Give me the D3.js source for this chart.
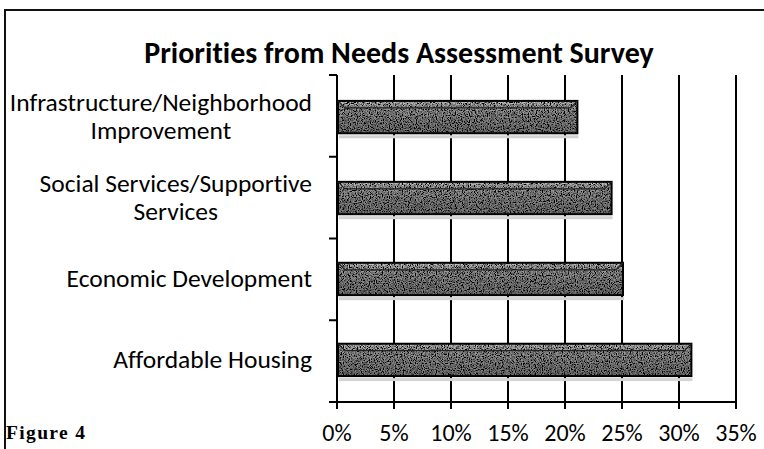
<!DOCTYPE html>
<html>
<head>
<meta charset="utf-8">
<script src="https://cdn.jsdelivr.net/npm/d3@7/dist/d3.min.js"></script>
<style>
  html, body { margin: 0; padding: 0; background: #fff; }
  svg { display: block; }
  text { font-variant-ligatures: none; }
</style>
</head>
<body>
<svg id="chart" width="764" height="449"></svg>
<script>
const categories = [
  ['Infrastructure/Neighborhood', 'Improvement'],
  ['Social Services/Supportive', 'Services'],
  ['Economic Development'],
  ['Affordable Housing'],
];
const values = [0.21, 0.24, 0.25, 0.31];
const ticks = [0, 0.05, 0.10, 0.15, 0.20, 0.25, 0.30, 0.35];
const title = 'Priorities from Needs Assessment Survey';
const figureLabel = 'Figure 4';

const font = 'Carlito, Calibri, Lato, sans-serif';
const margin = { top: 75, right: 28, bottom: 47, left: 337 };
const W = 764;
const H = 449;

const svg = d3.select('#chart');
const defs = svg.append('defs');

// grainy texture for the bars, like the scanned print
const filter = defs.append('filter')
  .attr('id', 'grain')
  .attr('x', 0).attr('y', 0).attr('width', 1).attr('height', 1);
filter.append('feTurbulence')
  .attr('type', 'fractalNoise')
  .attr('baseFrequency', 0.85)
  .attr('numOctaves', 2)
  .attr('seed', 4)
  .attr('result', 'noise');
filter.append('feColorMatrix')
  .attr('in', 'noise')
  .attr('type', 'matrix')
  .attr('values', '0 0 0 0 0  0 0 0 0 0  0 0 0 0 0  3.2 0 0 0 -1.1')
  .attr('result', 'dots');
filter.append('feComposite')
  .attr('in', 'dots')
  .attr('in2', 'SourceGraphic')
  .attr('operator', 'in')
  .attr('result', 'dotsIn');
filter.append('feMerge').selectAll('feMergeNode')
  .data(['SourceGraphic', 'dotsIn'])
  .enter()
  .append('feMergeNode')
  .attr('in', d => d);

const grad = defs.append('linearGradient')
  .attr('id', 'barGrad')
  .attr('x1', 0).attr('y1', 0).attr('x2', 0).attr('y2', 1);
grad.append('stop').attr('offset', '0%').attr('stop-color', '#cfcfcf');
grad.append('stop').attr('offset', '20%').attr('stop-color', '#a0a0a0');
grad.append('stop').attr('offset', '55%').attr('stop-color', '#8c8c8c');
grad.append('stop').attr('offset', '100%').attr('stop-color', '#7a7a7a');

const width = W - margin.left - margin.right;
const height = H - margin.top - margin.bottom;

const x = d3.scaleLinear()
  .domain([0, 0.35])
  .range([margin.left, margin.left + width]);

const y = d3.scaleBand()
  .domain(d3.range(categories.length))
  .range([margin.top, margin.top + height])
  .paddingInner(0.6)
  .paddingOuter(0.32);

const yEdges = d3.scaleLinear()
  .domain([0, categories.length])
  .range([margin.top, margin.top + height]);

// outer frame (top and left edges visible in the scan)
svg.append('line')
  .attr('x1', 4).attr('x2', W).attr('y1', 10).attr('y2', 10)
  .attr('stroke', '#111').attr('stroke-width', 2);
svg.append('line')
  .attr('x1', 5).attr('x2', 5).attr('y1', 10).attr('y2', H)
  .attr('stroke', '#111').attr('stroke-width', 2);

svg.append('text')
  .attr('x', 399)
  .attr('y', 63)
  .attr('text-anchor', 'middle')
  .style('font-family', font)
  .style('font-weight', 'bold')
  .style('font-size', '30px')
  .attr('fill', '#000')
  .text(title);

// vertical gridlines with tick stubs below the axis
svg.append('g')
  .selectAll('line')
  .data(ticks)
  .enter()
  .append('line')
  .attr('x1', d => x(d))
  .attr('x2', d => x(d))
  .attr('y1', margin.top)
  .attr('y2', margin.top + height + 7)
  .attr('stroke', '#000')
  .attr('stroke-width', 2);

// x axis line, extends a bit left of 0
svg.append('line')
  .attr('x1', x(0) - 8)
  .attr('x2', x(0.35))
  .attr('y1', margin.top + height)
  .attr('y2', margin.top + height)
  .attr('stroke', '#000')
  .attr('stroke-width', 2);

// category ticks on the y axis
svg.append('g')
  .selectAll('line')
  .data(d3.range(categories.length + 1))
  .enter()
  .append('line')
  .attr('x1', x(0) - 8)
  .attr('x2', x(0))
  .attr('y1', d => yEdges(d))
  .attr('y2', d => yEdges(d))
  .attr('stroke', '#000')
  .attr('stroke-width', 2);

svg.append('g')
  .selectAll('text')
  .data(ticks)
  .enter()
  .append('text')
  .attr('x', d => x(d))
  .attr('y', 441)
  .attr('text-anchor', 'middle')
  .style('font-family', font)
  .style('font-size', '24px')
  .attr('fill', '#000')
  .text(d => Math.round(d * 100) + '%');

// bars
const bars = svg.append('g');
bars.selectAll('rect.shadow')
  .data(values)
  .enter()
  .append('rect')
  .classed('shadow', true)
  .attr('x', x(0) + 2)
  .attr('y', (d, i) => y(i) + y.bandwidth() + 2)
  .attr('width', d => x(d) - x(0))
  .attr('height', 3)
  .attr('fill', '#d4d4d4');

bars.selectAll('rect.bar')
  .data(values)
  .enter()
  .append('rect')
  .classed('bar', true)
  .attr('x', x(0) + 1)
  .attr('y', (d, i) => y(i))
  .attr('width', d => x(d) - x(0))
  .attr('height', y.bandwidth())
  .attr('fill', 'url(#barGrad)')
  .attr('filter', 'url(#grain)');

bars.selectAll('rect.outline')
  .data(values)
  .enter()
  .append('rect')
  .classed('outline', true)
  .attr('x', x(0) + 1)
  .attr('y', (d, i) => y(i))
  .attr('width', d => x(d) - x(0))
  .attr('height', y.bandwidth())
  .attr('fill', 'none')
  .attr('stroke', '#000')
  .attr('stroke-width', 2);

// bevel corners at the bar ends
bars.selectAll('path.bevel')
  .data(values)
  .enter()
  .append('path')
  .classed('bevel', true)
  .attr('d', (d, i) => {
    const x0 = x(0) + 1;
    const x1 = x(d) + 1;
    const y0 = y(i);
    return `M${x0},${y0}L${x0 + 7},${y0 + 7}L${x1 - 7},${y0 + 7}L${x1},${y0}`;
  })
  .attr('fill', 'none')
  .attr('stroke', '#222')
  .attr('stroke-width', 1.2);

// category labels, block right aligned, lines centred inside the block
const labelRight = 312;
const lineGap = 28;
const labels = svg.append('g');
categories.forEach((lines, i) => {
  const cy = y(i) + y.bandwidth() / 2;
  const g = labels.append('g');
  const texts = g.selectAll('text')
    .data(lines)
    .enter()
    .append('text')
    .attr('text-anchor', 'middle')
    .attr('y', (d, j) => cy + 8 + (j - (lines.length - 1) / 2) * lineGap)
    .style('font-family', font)
    .style('font-size', '25.5px')
    .attr('fill', '#000')
    .text(d => d);
  let maxW = 0;
  texts.each(function () {
    maxW = Math.max(maxW, this.getComputedTextLength());
  });
  texts.attr('x', labelRight - maxW / 2);
});

svg.append('text')
  .attr('x', 6)
  .attr('y', 439)
  .style('font-family', '"Liberation Serif", "Times New Roman", serif')
  .style('font-weight', 'bold')
  .style('font-size', '19.5px')
  .attr('textLength', 79)
  .attr('lengthAdjust', 'spacing')
  .attr('fill', '#000')
  .text(figureLabel);
</script>
</body>
</html>
